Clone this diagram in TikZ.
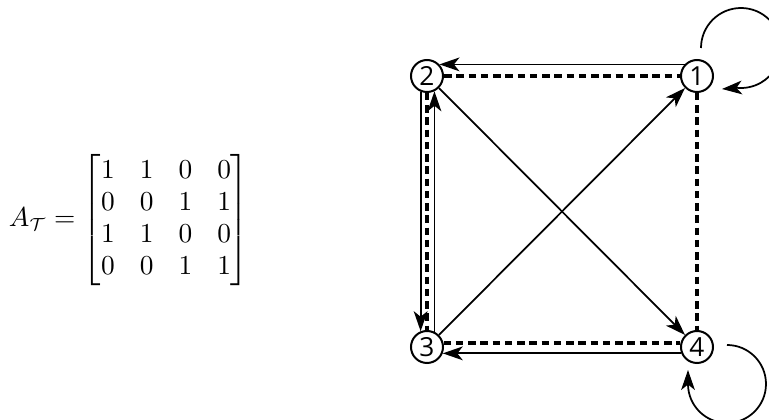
\documentclass[tikz,border=0pt]{standalone}
\usepackage{amsmath}
\usepackage{fontspec}
\newfontfamily\vtxfont{Open Sans}
\usepackage{tikz}
\usetikzlibrary{arrows.meta}

\begin{document}
\begin{tikzpicture}[
    x=0.4pt, y=0.4pt,
    vtx/.style={draw, circle, line width=0.8pt, minimum size=12.8pt,
                inner sep=0pt, font=\vtxfont\fontsize{10.5}{12}\selectfont},
    arr/.style={-{Stealth[length=8pt, width=5.5pt, inset=2.2pt]}, line width=0.7pt},
    dsh/.style={line width=1.7pt, dash pattern=on 3pt off 1.9pt}
]
\useasboundingbox (0,0) rectangle (769,420);

\node[font=\fontsize{10.7}{12.8}\selectfont] (mat) at (129,200) {$A_{\mathcal{T}} =
    \begin{bmatrix}
    1 & 1 & 0 & 0\\
    0 & 0 & 1 & 1\\
    1 & 1 & 0 & 0\\
    0 & 0 & 1 & 1
    \end{bmatrix}$};

\node[vtx] (n1) at (697,344) {1};
\node[vtx] (n2) at (427,344) {2};
\node[vtx] (n3) at (427,73)  {3};
\node[vtx] (n4) at (697,73)  {4};

% dashed square
\draw[dsh] (n2) -- (n1);
\draw[dsh] (n2) -- (n3);
\draw[dsh] (n1) -- (n4);
\draw[dsh] (n3.13) -- (n4.167);

% directed edges
\draw[arr] (n1.137) -- (n2.43);
\draw[arr] (n2.248) -- (n3.112);
\draw[arr] (n3.64) -- (n2.296);
\draw[arr] (n4.202) -- (n3.338);
\draw[arr] (n2) -- (n4);
\draw[arr] (n3) -- (n1);

% self loops
\draw[arr] ([shift={(4,28)}]n1.center) arc[start angle=180, end angle=-95, radius=40]
    -- ([shift={(25,-13)}]n1.center);
\draw[arr] ([shift={(30,2)}]n4.center) arc[start angle=90, end angle=-180, radius=39]
    -- ([shift={(-9,-23)}]n4.center);
\end{tikzpicture}
\end{document}
